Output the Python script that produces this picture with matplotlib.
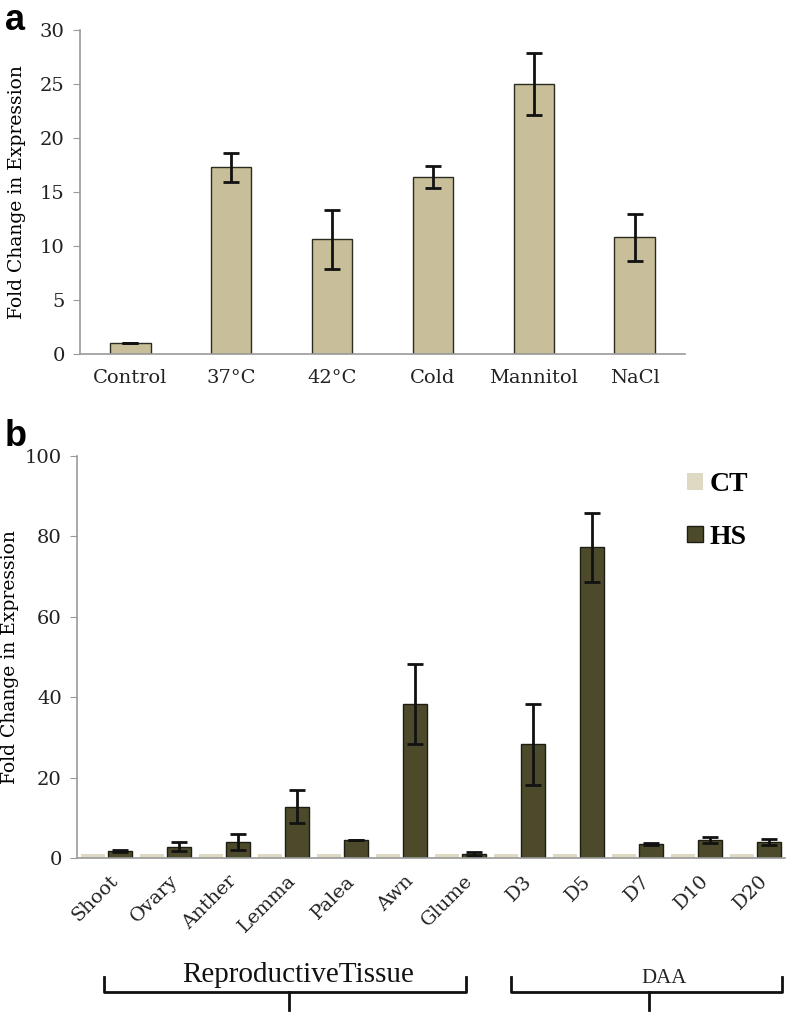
import numpy as np
import matplotlib
matplotlib.use('Agg')
import matplotlib.pyplot as plt
import matplotlib.transforms as mtransforms
from matplotlib.lines import Line2D

# Panel a data
stress_labels = ['Control', '37°C', '42°C', 'Cold', 'Mannitol', 'NaCl']
stress_fold = [1.0, 17.3, 10.6, 16.4, 25.0, 10.8]
stress_err = [0.0, 1.35, 2.7, 1.0, 2.85, 2.2]

# Panel b data
tissue_labels = ['Shoot', 'Ovary', 'Anther', 'Lemma', 'Palea', 'Awn', 'Glume',
                 'D3', 'D5', 'D7', 'D10', 'D20']
ct_fold = [1.0] * 12
hs_fold = [1.7, 2.8, 4.0, 12.8, 4.5, 38.3, 1.0, 28.3, 77.3, 3.5, 4.5, 4.0]
hs_err = [0.3, 1.1, 2.0, 4.0, 0.0, 9.9, 0.6, 10.1, 8.6, 0.3, 0.8, 0.8]

groups = [('ReproductiveTissue', -0.05, 6.1, 3.1), ('DAA', 6.85, 11.45, 9.2)]

serif = 'DejaVu Serif'
spine_col = '#9a9a9a'

fig = plt.figure(figsize=(7.88, 10.18), dpi=100)

# ---- panel a ----
ax1 = fig.add_axes([0.1015, 0.6523, 0.7677, 0.3183])
x1 = np.arange(len(stress_labels))
ax1.bar(x1, stress_fold, width=0.4, color='#c8bf9a', edgecolor='#2b2b20', linewidth=1.0,
        yerr=stress_err, error_kw=dict(ecolor='#111111', elinewidth=2, capsize=6, capthick=2))
ax1.set_xlim(-0.5, len(stress_labels) - 0.5)
ax1.set_ylim(0, 30)
ax1.set_yticks(range(0, 31, 5))
ax1.set_xticks(x1)
ax1.set_xticklabels(stress_labels, fontsize=14, family=serif, color='#222222')
ax1.tick_params(axis='x', length=0, pad=11)
ax1.tick_params(axis='y', length=5, color=spine_col, labelsize=14, pad=6, labelcolor='#222222')
for lab in ax1.get_yticklabels():
    lab.set_family(serif)
ax1.set_ylabel('Fold Change in Expression', fontsize=13.5, family=serif, labelpad=10)
for s in ['top', 'right']:
    ax1.spines[s].set_visible(False)
for s in ['left', 'bottom']:
    ax1.spines[s].set_color(spine_col)
    ax1.spines[s].set_linewidth(1.2)

# ---- panel b ----
ax2 = fig.add_axes([0.0977, 0.1572, 0.8985, 0.3949])
x2 = np.arange(len(tissue_labels))
w = 0.42
ax2.bar(x2 - 0.23, ct_fold, width=w, color='#ddd9c3', edgecolor='none', label='CT')
ax2.bar(x2 + 0.23, hs_fold, width=w, color='#4d4a2c', edgecolor='#1e1d12', linewidth=1.0,
        yerr=hs_err, error_kw=dict(ecolor='#111111', elinewidth=2, capsize=6, capthick=2),
        label='HS')
ax2.set_xlim(-0.5, len(tissue_labels) - 0.5)
ax2.set_ylim(0, 100)
ax2.set_yticks(range(0, 101, 20))
ax2.set_xticks(x2 + 0.05)
ax2.set_xticklabels(tissue_labels, rotation=45, ha='right', rotation_mode='anchor',
                    fontsize=14, family=serif, color='#222222')
ax2.tick_params(axis='x', length=0, pad=10)
ax2.tick_params(axis='y', length=5, color=spine_col, labelsize=14, pad=6, labelcolor='#222222')
for lab in ax2.get_yticklabels():
    lab.set_family(serif)
ax2.set_ylabel('Fold Change in Expression', fontsize=13.5, family=serif, labelpad=4)
for s in ['top', 'right']:
    ax2.spines[s].set_visible(False)
for s in ['left', 'bottom']:
    ax2.spines[s].set_color(spine_col)
    ax2.spines[s].set_linewidth(1.2)

leg = ax2.legend(loc='upper left', bbox_to_anchor=(0.862, 0.96), frameon=False,
                 borderaxespad=0, borderpad=0,
                 prop={'family': 'Liberation Serif', 'weight': 'bold', 'size': 20},
                 handlelength=0.55, handleheight=0.55, handletextpad=0.25, labelspacing=1.0)

# group braces under the tick labels
trans = mtransforms.blended_transform_factory(ax2.transData, ax2.transAxes)
y_end, y_line, y_tip = -0.297, -0.333, -0.378
for name, x0, x1b, xt in groups:
    xs = [x0, x0, x1b, x1b]
    ys = [y_end, y_line, y_line, y_end]
    fig.add_artist(Line2D(xs, ys, transform=trans, color='#111111', lw=2))
    fig.add_artist(Line2D([xt, xt], [y_line, y_tip], transform=trans, color='#111111', lw=2))
    if name == 'DAA':
        ax2.text(9.45, -0.300, name, transform=trans, ha='center', va='center',
                 fontsize=15, family='Liberation Serif', color='#222222', clip_on=False)
    else:
        ax2.text(3.25, -0.292, name, transform=trans, ha='center', va='center',
                 fontsize=21, family='Liberation Serif', color='#111111', clip_on=False)

# panel letters
fig.text(0.006, 0.997, 'a', fontsize=26, fontweight='bold', family='Liberation Sans', va='top')
fig.text(0.006, 0.588, 'b', fontsize=26, fontweight='bold', family='Liberation Sans', va='top')

fig.savefig('out.png', dpi=100)
